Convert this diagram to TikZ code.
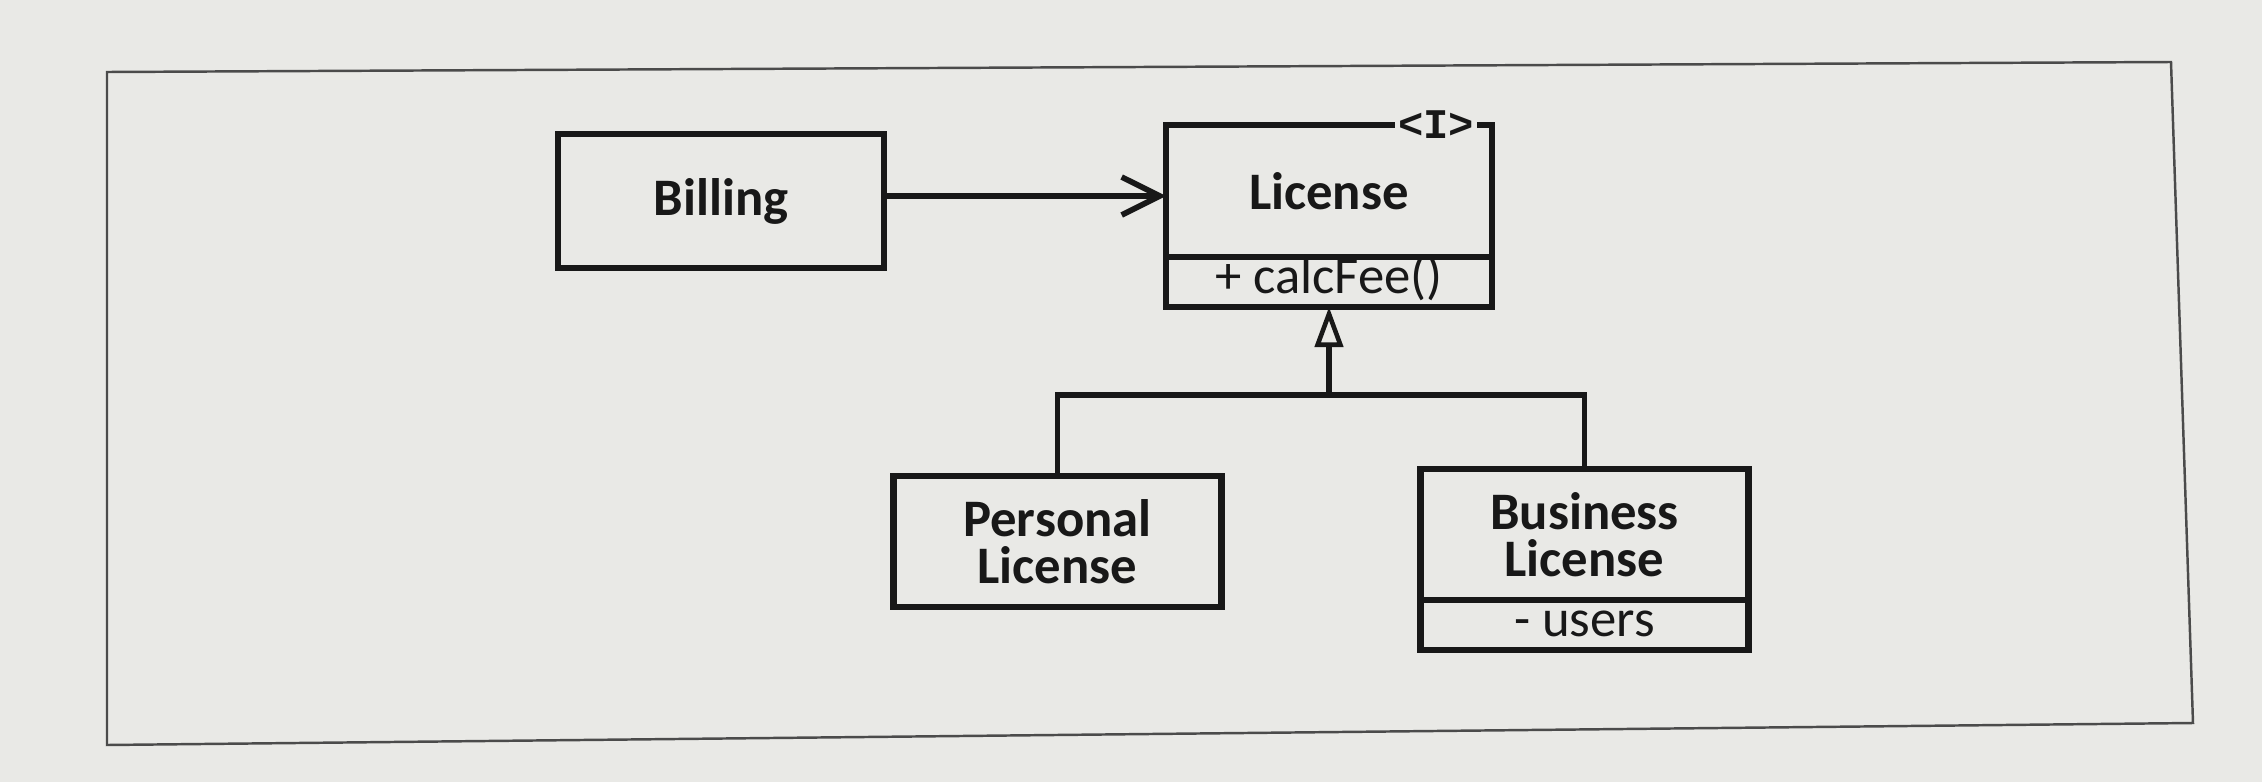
\documentclass[tikz,border=0pt]{standalone}
\usepackage{fontspec}
\setmainfont{Carlito}
\newfontfamily\stereofont{Liberation Mono}
\usepackage{tikz}
\usetikzlibrary{
  arrows.meta,
  positioning,
  calc
}
\usepackage{xcolor}
\definecolor{paper}{RGB}{233, 233, 230}
\definecolor{ink}{RGB}{24, 24, 24}
\definecolor{framegray}{RGB}{75, 75, 75}
\tikzset{
  % Class boxes
  classbox/.style = {draw=ink, line width=1.9pt, outer sep=0pt, text=ink,
                     font=\fontsize{15}{13.5}\selectfont\bfseries, align=center,
                     inner sep=2pt, minimum width=3.28cm},
  opsbox/.style   = {draw=ink, line width=1.9pt, outer sep=0pt, text=ink,
                     font=\fontsize{15}{15}\selectfont, inner xsep=2pt, inner ysep=0.5mm,
                     text height=3.1mm, text depth=0.9mm, minimum width=3.28cm},
  % Connectors
  uses/.style     = {draw=ink, line width=1.6pt, -{Straight Barb[length=3.8mm, width=3.8mm]}},
  inherit/.style  = {draw=ink, line width=1.6pt,
                     -{Triangle[open, length=4mm, width=2.8mm, line width=1.3pt]}},
  tree/.style     = {draw=ink, line width=1.6pt},
  % Stereotype mark
  stereo/.style   = {fill=paper, text=ink, inner sep=1pt,
                     font=\stereofont\fontsize{12}{12}\selectfont\bfseries},
}
\begin{document}
\begin{tikzpicture}
  % Page and frame
  \useasboundingbox (0,0) rectangle (22.62,-7.82);
  \fill[paper] (0,0) rectangle (22.62,-7.82);
  \draw[framegray, line width=0.7pt] (1.07,-0.72) -- (21.71,-0.62) -- (21.93,-7.23) -- (1.07,-7.45) -- cycle;
  % Classes
  \node[classbox, minimum height=1.34cm, minimum width=3.26cm] (bill) at (7.21,-2.01) {Billing};
  \node[classbox, minimum height=1.32cm, minimum width=3.26cm] (lic) at (13.29,-1.91) {License};
  \node[opsbox, minimum width=3.26cm, below=0pt of lic] (licops) {+ calcFee()};
  \node[stereo] (mark) at ($(lic.north east)+(-0.56,0)$) {<I>};
  \node[classbox, minimum height=1.31cm] (pers) at (10.575,-5.415) {Personal\\License};
  \node[classbox, minimum height=1.31cm] (bus) at (15.845,-5.345) {Business\\License};
  \node[opsbox, below=0pt of bus] (busops) {- users};
  % Relations
  \coordinate (tail) at ($(bill.east)+(0,0.05)$);
  \draw[uses] (tail) -- (tail -| lic.west);
  \coordinate (fork) at ($(licops.south)+(0,-0.88)$);
  \draw[tree] (pers.north) |- (fork) -| (bus.north);
  \draw[inherit] (fork) -- (licops.south);
\end{tikzpicture}
\end{document}
